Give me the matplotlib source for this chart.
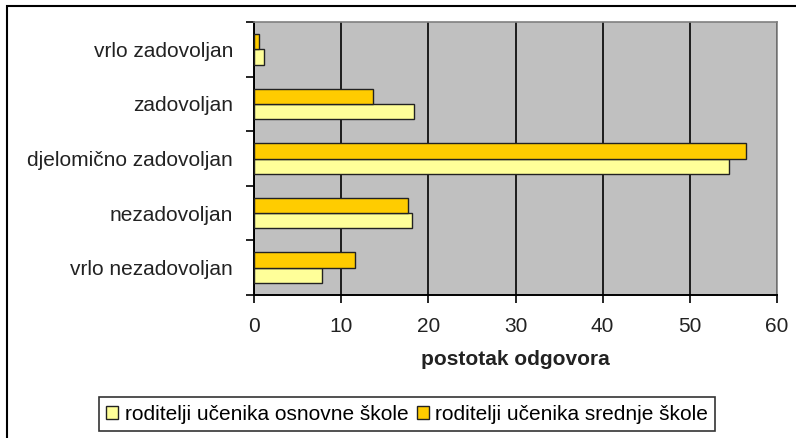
import numpy as np
import matplotlib
matplotlib.use("Agg")
import matplotlib.pyplot as plt
from matplotlib.patches import Rectangle

plt.rcParams['font.family'] = ['Liberation Sans', 'DejaVu Sans']

categories = ["vrlo nezadovoljan", "nezadovoljan", "djelomično zadovoljan",
              "zadovoljan", "vrlo zadovoljan"]
osnovne = [7.8, 18.1, 54.5, 18.4, 1.1]
srednje = [11.6, 17.7, 56.4, 13.7, 0.6]
series_names = ["roditelji učenika osnovne škole", "roditelji učenika srednje škole"]

FS = 15

fig = plt.figure(figsize=(7.96, 4.38), dpi=100)
ax = fig.add_axes([254 / 796, 1 - 295 / 438, 523 / 796, 273 / 438])

y = np.arange(len(categories))
h = 0.28
b1 = ax.barh(y - h / 2, osnovne, height=h, color="#FFFF99", edgecolor="#222222",
             linewidth=1.0, label=series_names[0], zorder=3)
b2 = ax.barh(y + h / 2, srednje, height=h, color="#FFCC00", edgecolor="#222222",
             linewidth=1.0, label=series_names[1], zorder=3)

ax.set_facecolor("#C0C0C0")
ax.set_xlim(0, 60)
ax.set_ylim(-0.5, len(categories) - 0.5)
ax.set_xticks(np.arange(0, 61, 10))
ax.grid(axis="x", color="black", linewidth=1.2, zorder=1)

ax.set_yticks(y)
ax.set_yticklabels(categories)
ax.set_yticks(np.arange(-0.5, len(categories), 1), minor=True)
ax.tick_params(axis="y", which="major", length=0, pad=15, labelsize=FS, colors="#222222")
ax.tick_params(axis="y", which="minor", length=6, width=1.2, direction="out")
ax.tick_params(axis="x", length=6, width=1.2, direction="out", labelsize=FS,
               colors="black", labelcolor="#222222", pad=10)

for s in ["top", "right"]:
    ax.spines[s].set_color("#808080")
    ax.spines[s].set_linewidth(1.2)
for s in ["left", "bottom"]:
    ax.spines[s].set_color("black")
    ax.spines[s].set_linewidth(1.4)

ax.set_xlabel("postotak odgovora", fontsize=FS, fontweight="bold", labelpad=10,
              color="#222222")

leg = fig.legend(handles=[b1, b2], loc="center", bbox_to_anchor=(407 / 796, 1 - 414 / 438),
                 ncol=2, fontsize=FS, frameon=True, fancybox=False,
                 edgecolor="black", handlelength=0.6, handleheight=0.6,
                 handletextpad=0.3, columnspacing=0.4, borderpad=0.35)
leg.get_frame().set_linewidth(1.2)

# outer chart border
fig.patches.append(Rectangle((7 / 796, -0.05), 1.1, 1 - 6 / 438 + 0.05,
                             transform=fig.transFigure, fill=False,
                             edgecolor="black", linewidth=1.5))

fig.savefig("out.png", dpi=100)
